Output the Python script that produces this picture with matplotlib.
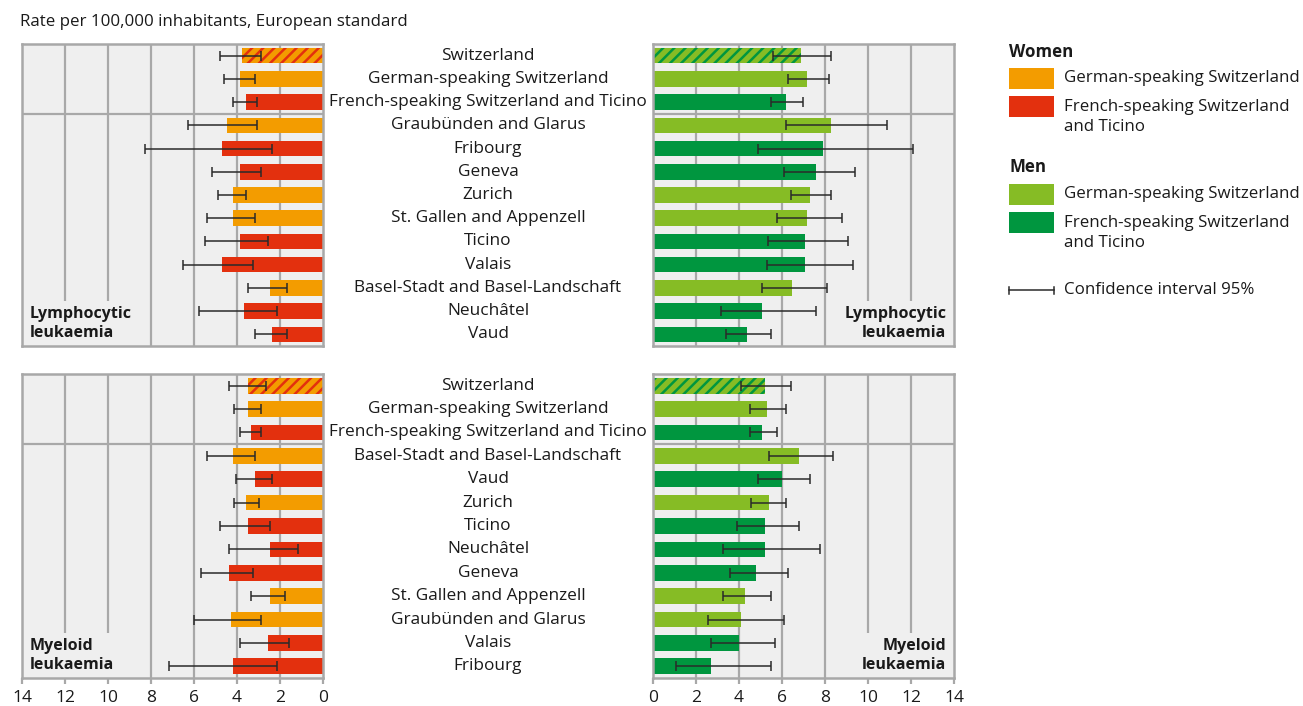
import numpy as np
import matplotlib.pyplot as plt
from matplotlib.patches import Rectangle
from matplotlib.lines import Line2D
from matplotlib.transforms import blended_transform_factory

plt.rcParams['font.family'] = ['Open Sans', 'DejaVu Sans']
plt.rcParams['hatch.linewidth'] = 1.8

ORANGE = '#f39c00'
RED = '#e3300e'
LGREEN = '#86bc25'
DGREEN = '#00963f'
BG = '#efefef'
GRID = '#a8a8a8'
TXT = '#1a1a1a'

# ---- Lymphocytic leukaemia ----
lym_regions = ['Switzerland', 'German-speaking Switzerland',
               'French-speaking Switzerland and Ticino', 'Graubünden and Glarus',
               'Fribourg', 'Geneva', 'Zurich', 'St. Gallen and Appenzell', 'Ticino',
               'Valais', 'Basel-Stadt and Basel-Landschaft', 'Neuchâtel', 'Vaud']
lym_lang = ['ch', 'de', 'fr', 'de', 'fr', 'fr', 'de', 'de', 'fr', 'fr', 'de', 'fr', 'fr']
lym_women = [3.78, 3.87, 3.59, 4.48, 4.71, 3.87, 4.20, 4.20, 3.87, 4.71, 2.47, 3.69, 2.38]
lym_women_lo = [2.88, 3.16, 3.06, 3.06, 2.35, 2.88, 3.56, 3.16, 2.57, 3.25, 1.66, 2.16, 1.66]
lym_women_hi = [4.77, 4.59, 4.18, 6.27, 8.29, 5.18, 4.88, 5.38, 5.49, 6.49, 3.47, 5.77, 3.17]
lym_men = [6.89, 7.17, 6.19, 8.29, 7.91, 7.59, 7.31, 7.17, 7.08, 7.08, 6.47, 5.08, 4.38]
lym_men_lo = [5.58, 6.27, 5.47, 6.18, 4.88, 6.07, 6.40, 5.78, 5.37, 5.28, 5.08, 3.17, 3.38]
lym_men_hi = [8.29, 8.19, 6.98, 10.89, 12.10, 9.39, 8.29, 8.80, 9.09, 9.29, 8.08, 7.59, 5.48]

# ---- Myeloid leukaemia ----
mye_regions = ['Switzerland', 'German-speaking Switzerland',
               'French-speaking Switzerland and Ticino', 'Basel-Stadt and Basel-Landschaft',
               'Vaud', 'Zurich', 'Ticino', 'Neuchâtel', 'Geneva', 'St. Gallen and Appenzell',
               'Graubünden and Glarus', 'Valais', 'Fribourg']
mye_lang = ['ch', 'de', 'fr', 'de', 'fr', 'de', 'fr', 'fr', 'fr', 'de', 'de', 'fr', 'fr']
mye_women = [3.50, 3.50, 3.36, 4.20, 3.17, 3.59, 3.50, 2.47, 4.38, 2.47, 4.29, 2.56, 4.20]
mye_women_lo = [2.66, 2.87, 2.87, 3.15, 2.35, 2.97, 2.47, 1.17, 3.26, 1.76, 2.87, 1.57, 2.16]
mye_women_hi = [4.37, 4.16, 3.85, 5.38, 4.06, 4.16, 4.77, 4.37, 5.67, 3.36, 5.98, 3.85, 7.16]
mye_men = [5.22, 5.31, 5.08, 6.80, 5.99, 5.40, 5.22, 5.22, 4.80, 4.29, 4.10, 4.01, 2.71]
mye_men_lo = [4.07, 4.49, 4.49, 5.39, 4.88, 4.58, 3.89, 3.27, 3.58, 3.27, 2.57, 2.68, 1.08]
mye_men_hi = [6.40, 6.19, 5.79, 8.39, 7.31, 6.19, 6.80, 7.79, 6.29, 5.48, 6.09, 5.68, 5.48]

W, H = 1303, 706
fig = plt.figure(figsize=(W / 100, H / 100), dpi=100)


def px_axes(x0, y0, x1, y1):
    return fig.add_axes([x0 / W, 1 - y1 / H, (x1 - x0) / W, (y1 - y0) / H])


def panel(ax, vals, lo, hi, langs, c_de, c_fr, label, left, ticks):
    vals = np.array(vals)
    lo = np.array(lo)
    hi = np.array(hi)
    y = np.arange(len(vals))
    cols = [c_de if l != 'fr' else c_fr for l in langs]
    bars = ax.barh(y, vals, height=0.67, color=cols, zorder=2, linewidth=0)
    for b, l in zip(bars, langs):
        if l == 'ch':
            b.set_facecolor(c_de)
            b.set_edgecolor(c_fr)
            b.set_hatch('///')
            b.set_linewidth(0)
    ax.errorbar(vals, y, xerr=[vals - lo, hi - vals], fmt='none', ecolor='#2a2a2a',
                elinewidth=1.1, capsize=3.5, capthick=1.1, zorder=3)
    ax.set_xlim(0, 14)
    if left:
        ax.invert_xaxis()
    ax.set_ylim(len(vals) - 0.5, -0.5)
    ax.set_facecolor(BG)
    for g in range(2, 14, 2):
        ax.axvline(g, color=GRID, lw=1.6, zorder=1)
    ax.axhline(2.5, color=GRID, lw=1.6, zorder=1)
    for s in ax.spines.values():
        s.set_color(GRID)
        s.set_linewidth(1.8)
        s.set_zorder(5)
    ax.set_yticks([])
    if ticks:
        ax.set_xticks(range(0, 15, 2))
        ax.tick_params(axis='x', direction='out', length=4, width=1.6, color=GRID,
                       labelsize=12.5, labelcolor=TXT, pad=5)
    else:
        ax.set_xticks([])
    if left:
        ax.text(0.025, 0.015, label, transform=ax.transAxes, ha='left', va='bottom',
                fontsize=11.5, fontweight='bold', color=TXT, linespacing=1.25, zorder=1.5,
                bbox=dict(facecolor=BG, edgecolor='none', pad=4))
    else:
        ax.text(0.975, 0.015, label, transform=ax.transAxes, ha='right', va='bottom',
                fontsize=11.5, fontweight='bold', color=TXT, linespacing=1.25, zorder=1.5,
                multialignment='right', bbox=dict(facecolor=BG, edgecolor='none', pad=4))


def centre_labels(ax, regions):
    tr = blended_transform_factory(fig.transFigure, ax.transData)
    for i, r in enumerate(regions):
        ax.text(488 / W, i, r, transform=tr, ha='center', va='center',
                fontsize=12.4, color=TXT, clip_on=False)


ax_tl = px_axes(22, 44, 323, 346)
ax_tr = px_axes(653, 44, 954, 346)
ax_bl = px_axes(22, 374, 323, 678)
ax_br = px_axes(653, 374, 954, 678)

panel(ax_tl, lym_women, lym_women_lo, lym_women_hi, lym_lang, ORANGE, RED,
      'Lymphocytic\nleukaemia', True, False)
panel(ax_tr, lym_men, lym_men_lo, lym_men_hi, lym_lang, LGREEN, DGREEN,
      'Lymphocytic\nleukaemia', False, False)
panel(ax_bl, mye_women, mye_women_lo, mye_women_hi, mye_lang, ORANGE, RED,
      'Myeloid\nleukaemia', True, True)
panel(ax_br, mye_men, mye_men_lo, mye_men_hi, mye_lang, LGREEN, DGREEN,
      'Myeloid\nleukaemia', False, True)

centre_labels(ax_tl, lym_regions)
centre_labels(ax_bl, mye_regions)

fig.text(20 / W, 1 - 22 / H, 'Rate per 100,000 inhabitants, European standard',
         ha='left', va='center', fontsize=12.2, color=TXT)

# legend
def leg_patch(y0, y1, c):
    fig.add_artist(Rectangle((1009 / W, 1 - y1 / H), 45 / W, (y1 - y0) / H,
                             transform=fig.transFigure, facecolor=c, edgecolor='none'))


def leg_text(y, s, bold=False):
    fig.text(1064 / W if not bold else 1009 / W, 1 - y / H, s, ha='left', va='center',
             fontsize=12.2, color=TXT, fontweight='bold' if bold else 'normal',
             linespacing=1.3)


leg_text(52, 'Women', bold=True)
leg_patch(68, 89, ORANGE)
leg_text(78, 'German-speaking Switzerland')
leg_patch(96, 117, RED)
leg_text(117, 'French-speaking Switzerland\nand Ticino')
leg_text(167, 'Men', bold=True)
leg_patch(184, 205, LGREEN)
leg_text(194, 'German-speaking Switzerland')
leg_patch(212, 233, DGREEN)
leg_text(233, 'French-speaking Switzerland\nand Ticino')
yl = 1 - 290 / H
fig.add_artist(Line2D([1009 / W, 1054 / W], [yl, yl], transform=fig.transFigure,
                      color='#2a2a2a', lw=1.1))
for xx in (1009, 1054):
    fig.add_artist(Line2D([xx / W, xx / W], [yl - 3.5 / H, yl + 3.5 / H],
                          transform=fig.transFigure, color='#2a2a2a', lw=1.1))
leg_text(290, 'Confidence interval 95%')

fig.savefig('out.png', dpi=100)
